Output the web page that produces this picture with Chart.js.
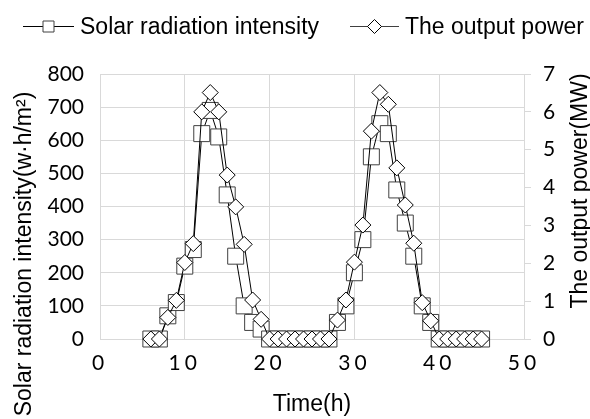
<!DOCTYPE html>
<html><head><meta charset="utf-8">
<script src="https://cdn.jsdelivr.net/npm/chart.js@4/dist/chart.umd.min.js"></script>
<style>html,body{margin:0;padding:0;background:#fff;}#wrap{width:590px;height:419px;}</style>
</head><body><div id="wrap"><canvas id="c" width="590" height="419"></canvas></div>
<script>
// ---- data ----
const hours = [6,7,8,9,10,11,12,13,14,15,16,17,18,19,20,21,22,23,24,25,26,27,28,29,30,31,32,33,34,35,36,37,38,39,40,41,42,43,44,45];
const radiation = [0,0,70,110,220,270,620,690,610,435,250,100,50,30,0,0,0,0,0,0,0,0,50,100,200,300,550,650,620,450,350,250,100,50,0,0,0,0,0,0];
const power = [0,0,0.57,1.02,2.02,2.52,6.0,6.51,6.0,4.33,3.49,2.5,1.03,0.52,0,0,0,0,0,0,0,0,0.5,1.03,2.03,3.01,5.49,6.51,6.2,4.52,3.54,2.53,0.96,0.48,0,0,0,0,0,0];
const seriesNames = ['Solar radiation intensity', 'The output power'];
const xTitle = 'Time(h)';
const yLeftTitle = 'Solar radiation intensity(w·h/m²)';
const yRightTitle = 'The output power(MW)';

const TICK_FONT = {family: 'Lato', size: 21};
const TITLE_FONT = '23px "Liberation Sans", Arial, sans-serif';
const GRID = '#d9d9d9';

const spacingPlugin = {
  id: 'xspacing',
  beforeDraw(chart) {
    const s = chart.scales.x;
    if (s && !s.__patched) {
      const orig = s.drawLabels;
      s.drawLabels = function (area) {
        const ctx = this.ctx;
        ctx.save();
        ctx.letterSpacing = '4px';
        orig.call(this, area);
        ctx.restore();
      };
      s.__patched = true;
    }
  }
};

function drawSquare(ctx, x, y, side) {
  ctx.beginPath();
  ctx.rect(x - side / 2, y - side / 2, side, side);
  ctx.fillStyle = '#fff'; ctx.fill();
  ctx.strokeStyle = '#404040'; ctx.lineWidth = 1; ctx.stroke();
}
function drawDiamond(ctx, x, y, r) {
  ctx.beginPath();
  ctx.moveTo(x - r, y); ctx.lineTo(x, y - r); ctx.lineTo(x + r, y); ctx.lineTo(x, y + r); ctx.closePath();
  ctx.fillStyle = '#fff'; ctx.fill();
  ctx.strokeStyle = '#000'; ctx.lineWidth = 1; ctx.stroke();
}

const decorPlugin = {
  id: 'decor',
  afterDraw(chart) {
    const ctx = chart.ctx;
    ctx.save();
    // legend
    const ly = 26.5;
    ctx.strokeStyle = '#000'; ctx.lineWidth = 1;
    ctx.beginPath(); ctx.moveTo(23, ly); ctx.lineTo(74, ly); ctx.stroke();
    drawSquare(ctx, 48.5, ly, 11);
    ctx.beginPath(); ctx.moveTo(350, ly); ctx.lineTo(399, ly); ctx.stroke();
    drawDiamond(ctx, 374.5, ly, 7);
    ctx.fillStyle = '#000';
    ctx.font = TITLE_FONT;
    ctx.textBaseline = 'alphabetic';
    ctx.textAlign = 'left';
    ctx.fillText(seriesNames[0], 80, 34);
    ctx.fillText(seriesNames[1], 405, 34);
    // x title
    const ca = chart.chartArea;
    ctx.textAlign = 'center';
    ctx.fillText(xTitle, (ca.left + ca.right) / 2, 411);
    // left title
    ctx.save();
    ctx.translate(31, 254);
    ctx.rotate(-Math.PI / 2);
    ctx.fillText(yLeftTitle, 0, 0);
    ctx.restore();
    // right title
    ctx.save();
    ctx.translate(587, 191);
    ctx.rotate(-Math.PI / 2);
    ctx.fillText(yRightTitle, 0, 0);
    ctx.restore();
    ctx.restore();
  }
};

new Chart(document.getElementById('c'), {
  type: 'line',
  data: {
    datasets: [
      {
        label: seriesNames[0],
        data: hours.map((h, i) => ({x: h, y: radiation[i]})),
        yAxisID: 'y',
        order: 1,
        borderColor: '#000', borderWidth: 1,
        pointStyle: 'rect', pointRadius: 11.3, pointHoverRadius: 11.3,
        pointBackgroundColor: '#fff', pointBorderColor: '#404040', pointBorderWidth: 1,
        tension: 0, fill: false, clip: false
      },
      {
        label: seriesNames[1],
        data: hours.map((h, i) => ({x: h, y: power[i]})),
        yAxisID: 'y1',
        order: 0,
        borderColor: '#000', borderWidth: 1,
        pointStyle: 'rectRot', pointRadius: 8, pointHoverRadius: 8,
        pointBackgroundColor: '#fff', pointBorderColor: '#000', pointBorderWidth: 1,
        tension: 0, fill: false, clip: false
      }
    ]
  },
  options: {
    responsive: false,
    animation: false,
    devicePixelRatio: 1,
    layout: {padding: {top: 74, left: 0, right: 0, bottom: 0}},
    plugins: {legend: {display: false}, tooltip: {enabled: false}, title: {display: false}},
    scales: {
      x: {
        type: 'linear', position: 'bottom', min: 0, max: 50,
        ticks: {stepSize: 10, font: TICK_FONT, color: '#000', padding: 12, maxRotation: 0},
        grid: {color: GRID, lineWidth: 1, drawTicks: false},
        border: {display: false},
        afterFit: s => { s.height = 80; }
      },
      y: {
        type: 'linear', position: 'left', min: 0, max: 800,
        ticks: {stepSize: 100, font: TICK_FONT, color: '#000', padding: 16},
        grid: {color: GRID, lineWidth: 1, drawTicks: false},
        border: {display: false},
        afterFit: s => { s.width = 100; }
      },
      y1: {
        type: 'linear', position: 'right', min: 0, max: 7,
        ticks: {stepSize: 1, font: TICK_FONT, color: '#000', padding: 12},
        grid: {drawOnChartArea: false, drawTicks: true, tickLength: 7, color: GRID, lineWidth: 1},
        border: {display: true, color: GRID, width: 1},
        afterFit: s => { s.width = 66; }
      }
    }
  },
  plugins: [spacingPlugin, decorPlugin]
});
</script>
</body></html>
